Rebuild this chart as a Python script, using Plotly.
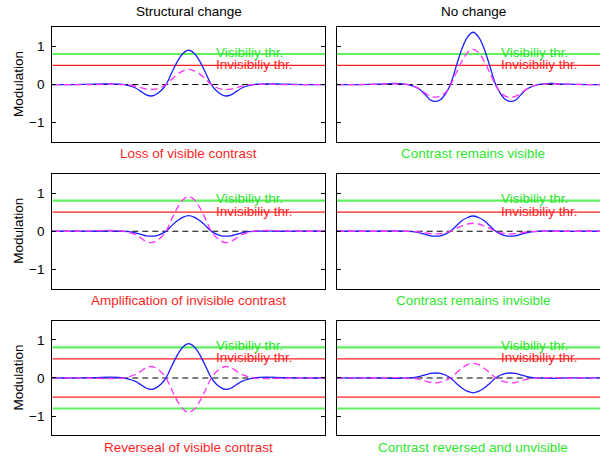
import plotly.graph_objects as go

# ---- data -------------------------------------------------------------
# sample positions along the profile (0..100 across a panel)
x_pts = [0, 8, 16, 21, 25, 28, 30.5, 32.5, 34.5, 36.4, 38, 40, 41.7, 44, 46, 48, 50,
         52, 54, 56, 58.3, 60, 62, 63.6, 65.5, 67.5, 69.5, 72, 75, 79, 84, 92, 100]

# top row: structural change / no change
blue_tl = [0, 0, 0.01, 0.02, 0.01, -0.03, -0.09, -0.18, -0.27, -0.30, -0.26, -0.15, 0, 0.34, 0.62, 0.82, 0.90,
           0.82, 0.62, 0.34, 0, -0.15, -0.26, -0.30, -0.27, -0.18, -0.09, -0.03, 0.01, 0.02, 0.01, 0, 0]
mag_tl = [0, 0, 0, 0.01, 0, -0.01, -0.04, -0.08, -0.12, -0.13, -0.12, -0.07, 0, 0.15, 0.28, 0.36, 0.40,
          0.36, 0.28, 0.15, 0, -0.07, -0.12, -0.13, -0.12, -0.08, -0.04, -0.01, 0, 0.01, 0, 0, 0]
blue_tr = [0, 0, 0.01, 0.03, 0.01, -0.04, -0.13, -0.27, -0.41, -0.44, -0.40, -0.23, 0, 0.52, 0.95, 1.25, 1.37,
           1.25, 0.95, 0.52, 0, -0.23, -0.40, -0.44, -0.41, -0.27, -0.13, -0.04, 0.01, 0.03, 0.01, 0, 0]
mag_tr = [0, 0, 0.01, 0.02, 0.01, -0.04, -0.12, -0.23, -0.31, -0.33, -0.31, -0.20, -0.02, 0.33, 0.62, 0.84, 0.92,
          0.84, 0.62, 0.33, -0.02, -0.20, -0.31, -0.33, -0.31, -0.23, -0.12, -0.04, 0.01, 0.02, 0.01, 0, 0]

# middle row
blue_ml = [0, 0, 0, 0.01, 0, -0.01, -0.04, -0.08, -0.12, -0.13, -0.12, -0.07, 0, 0.16, 0.28, 0.37, 0.41,
           0.37, 0.28, 0.16, 0, -0.07, -0.12, -0.13, -0.12, -0.08, -0.04, -0.01, 0, 0.01, 0, 0, 0]
mag_ml = [0, 0, 0.01, 0.02, 0.01, -0.03, -0.09, -0.18, -0.27, -0.30, -0.26, -0.15, 0, 0.35, 0.63, 0.83, 0.91,
          0.83, 0.63, 0.35, 0, -0.15, -0.26, -0.30, -0.27, -0.18, -0.09, -0.03, 0.01, 0.02, 0.01, 0, 0]
blue_mr = [0, 0, 0, 0.01, 0, -0.01, -0.04, -0.08, -0.12, -0.13, -0.12, -0.07, 0, 0.15, 0.28, 0.36, 0.40,
           0.36, 0.28, 0.15, 0, -0.07, -0.12, -0.13, -0.12, -0.08, -0.04, -0.01, 0, 0.01, 0, 0, 0]
mag_mr = [0, 0, 0, 0, 0, -0.01, -0.02, -0.04, -0.06, -0.07, -0.06, -0.04, 0, 0.08, 0.14, 0.19, 0.21,
          0.19, 0.14, 0.08, 0, -0.04, -0.06, -0.07, -0.06, -0.04, -0.02, -0.01, 0, 0, 0, 0, 0]

# bottom row
blue_bl = [0, 0, 0.01, 0.02, 0.01, -0.03, -0.09, -0.18, -0.27, -0.30, -0.26, -0.15, 0, 0.34, 0.62, 0.82, 0.90,
           0.82, 0.62, 0.34, 0, -0.15, -0.26, -0.30, -0.27, -0.18, -0.09, -0.03, 0.01, 0.02, 0.01, 0, 0]
mag_bl = [0, 0, -0.01, -0.02, -0.01, 0.03, 0.09, 0.18, 0.27, 0.30, 0.26, 0.15, 0, -0.34, -0.62, -0.82, -0.90,
          -0.82, -0.62, -0.34, 0, 0.15, 0.26, 0.30, 0.27, 0.18, 0.09, 0.03, -0.01, -0.02, -0.01, 0, 0]
blue_br = [0, 0, 0, -0.01, 0, 0.01, 0.04, 0.08, 0.12, 0.13, 0.12, 0.07, 0, -0.15, -0.27, -0.35, -0.39,
           -0.35, -0.27, -0.15, 0, 0.07, 0.12, 0.13, 0.12, 0.08, 0.04, 0.01, 0, -0.01, 0, 0, 0]
mag_br = [0, 0, 0, 0.01, 0, -0.01, -0.04, -0.08, -0.12, -0.13, -0.11, -0.06, 0, 0.14, 0.26, 0.35, 0.38,
          0.35, 0.26, 0.14, 0, -0.06, -0.11, -0.13, -0.12, -0.08, -0.04, -0.01, 0, 0.01, 0, 0, 0]

vis_thr = 0.8
invis_thr = 0.5

column_titles = ["Structural change", "No change"]
panel_captions = ["Loss of visible contrast", "Contrast remains visible",
                  "Amplification of invisible contrast", "Contrast remains invisible",
                  "Reverseal of visible contrast", "Contrast reversed and unvisible"]
y_ticks = [-1, 0, 1]
y_tick_text = ["\u22121", "0", "1"]

# ---- styling ----------------------------------------------------------
FONT = "Liberation Sans, Arial, Helvetica, sans-serif"
FS = 13.5
GREEN_LINE = "#5ef05e"
GREEN_TEXT = "#2ee52e"
RED = "#ff1f1f"
BLUE = "#1c1cff"
MAGENTA = "#ff33ff"

W, H = 600, 460
col_px = [(52.3, 325.0), (336.7, 609.4)]     # right column runs past the page edge
row_top_px = [27.3, 174.0, 320.7]
row_h_px = 114.5

panels = [
    (blue_tl, mag_tl, False, panel_captions[0], RED),
    (blue_tr, mag_tr, False, panel_captions[1], GREEN_TEXT),
    (blue_ml, mag_ml, False, panel_captions[2], RED),
    (blue_mr, mag_mr, False, panel_captions[3], GREEN_TEXT),
    (blue_bl, mag_bl, True, panel_captions[4], RED),
    (blue_br, mag_br, True, panel_captions[5], GREEN_TEXT),
]

fig = go.Figure()
annotations = []

for i, (blue, mag, negative_thr, caption, cap_color) in enumerate(panels):
    r, c = divmod(i, 2)
    sfx = "" if i == 0 else str(i + 1)
    xa, ya = "x" + sfx, "y" + sfx
    left_px, right_px = col_px[c]
    vis_right = min(right_px, W)
    x_max = 100 * (vis_right - left_px) / (right_px - left_px)
    top = row_top_px[r]
    bot = top + row_h_px

    fig.layout["xaxis" + sfx] = dict(
        domain=[left_px / W, vis_right / W], range=[0, x_max], anchor=ya,
        showline=True, mirror=True, linecolor="black", linewidth=1.3,
        ticks="", showticklabels=False, showgrid=False, zeroline=False, fixedrange=True)
    fig.layout["yaxis" + sfx] = dict(
        domain=[1 - bot / H, 1 - top / H], range=[-1.5, 1.5], anchor=xa,
        showline=True, mirror=("ticks" if c == 0 else False), linecolor="black", linewidth=1.3,
        ticks="inside", ticklen=4, tickcolor="black", tickvals=y_ticks, ticktext=y_tick_text,
        showticklabels=(c == 0), tickfont=dict(family=FONT, size=FS, color="black"),
        ticklabelstandoff=4, showgrid=False, zeroline=False, fixedrange=True)

    thr_lines = [(vis_thr, GREEN_LINE, 2.2), (invis_thr, RED, 1.3)]
    if negative_thr:
        thr_lines += [(-invis_thr, RED, 1.3), (-vis_thr, GREEN_LINE, 2.2)]
    for val, col, w in thr_lines:
        fig.add_trace(go.Scatter(x=[0, 100], y=[val, val], mode="lines",
                                 line=dict(color=col, width=w), xaxis=xa, yaxis=ya))
    fig.add_trace(go.Scatter(x=[0, 100], y=[0, 0], mode="lines",
                             line=dict(color="black", width=1.1, dash="6px,4px"), xaxis=xa, yaxis=ya))
    fig.add_trace(go.Scatter(x=x_pts, y=blue, mode="lines",
                             line=dict(color=BLUE, width=1.3, shape="spline", smoothing=1.0),
                             xaxis=xa, yaxis=ya))
    fig.add_trace(go.Scatter(x=x_pts, y=mag, mode="lines",
                             line=dict(color=MAGENTA, width=1.3, shape="spline", smoothing=1.0,
                                       dash="7px,4px"),
                             xaxis=xa, yaxis=ya))

    annotations.append(dict(text="Visibiliy thr.", x=59.4, y=vis_thr, xref=xa, yref=ya,
                            xanchor="left", yanchor="middle", yshift=2, showarrow=False,
                            font=dict(family=FONT, size=FS, color=GREEN_TEXT)))
    annotations.append(dict(text="Invisibiliy thr.", x=59.4, y=invis_thr, xref=xa, yref=ya,
                            xanchor="left", yanchor="middle", yshift=1, showarrow=False,
                            font=dict(family=FONT, size=FS, color=RED)))

    cx = (left_px + right_px) / 2 / W
    annotations.append(dict(text=caption, x=cx, y=1 - (bot + 12) / H, xref="paper", yref="paper",
                            xanchor="center", yanchor="middle", showarrow=False,
                            font=dict(family=FONT, size=FS, color=cap_color)))
    if r == 0:
        annotations.append(dict(text=column_titles[c], x=cx, y=1 - 12 / H, xref="paper", yref="paper",
                                xanchor="center", yanchor="middle", showarrow=False,
                                font=dict(family=FONT, size=FS, color="black")))
    if c == 0:
        annotations.append(dict(text="Modulation", x=18.5 / W, y=1 - (top + row_h_px / 2) / H,
                                xref="paper", yref="paper", textangle=-90,
                                xanchor="center", yanchor="middle", showarrow=False,
                                font=dict(family=FONT, size=FS, color="black")))

fig.update_layout(width=W, height=H, margin=dict(l=0, r=0, t=0, b=0),
                  paper_bgcolor="white", plot_bgcolor="white", showlegend=False,
                  annotations=annotations, hovermode=False)

fig.write_html("out.html", config={"displayModeBar": False})
